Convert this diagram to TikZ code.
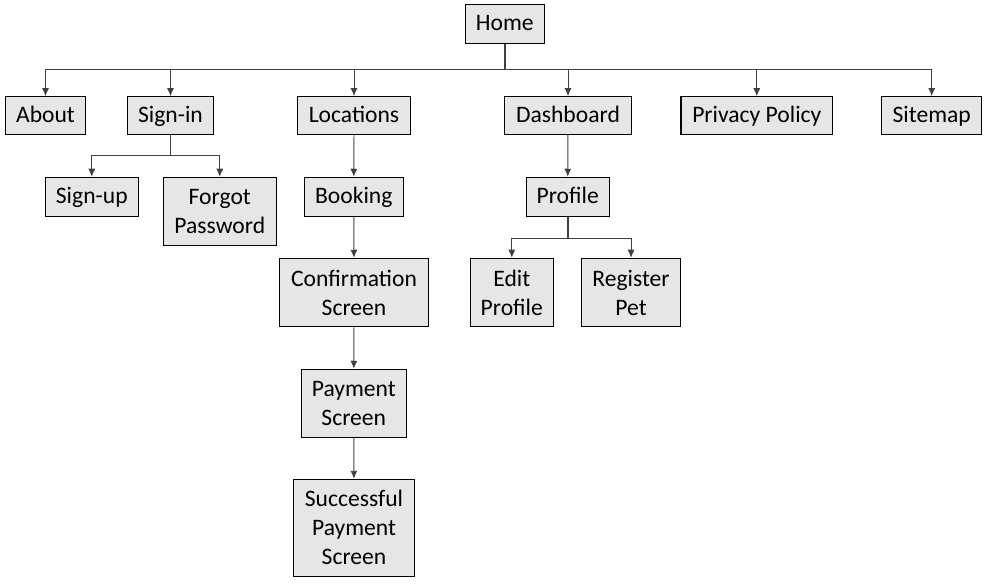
\documentclass[tikz,border=0pt]{standalone}
\usepackage{fontspec}
\setmainfont{Carlito}
\usetikzlibrary{arrows.meta}
\definecolor{boxgray}{HTML}{E7E6E6}
\definecolor{linegray}{HTML}{404040}

\begin{document}
\begin{tikzpicture}[x=1pt,y=-1pt]
  \tikzset{page/.style={draw, fill=boxgray, line width=1.1pt, inner sep=0pt, align=center,
      font=\fontsize{23.6}{29}\selectfont}}
  \tikzset{page1/.style={page, text height=18pt, text depth=4pt}}
  \tikzset{line/.style={draw=linegray, line width=0.9pt, -{Latex[length=8pt,width=7pt]}}}
  \tikzset{line2/.style={draw=linegray, line width=1.6pt}}

  \useasboundingbox (0,0) rectangle (987,585);

  \node[page1, minimum width=79pt, minimum height=39pt] (home) at (504.8,23.8) {Home};

  \node[page1, minimum width=80.4pt, minimum height=37.6pt] (about) at (45.5,115.5) {About};
  \node[page1, minimum width=86.4pt, minimum height=37.6pt] (signin) at (170.5,115.5) {Sign-in};
  \node[page1, minimum width=113.4pt, minimum height=37.6pt] (locations) at (354,115.5) {Locations};
  \node[page1, minimum width=127.4pt, minimum height=37.6pt] (dashboard) at (568,115.5) {Dashboard};
  \node[page1, minimum width=151.7pt, minimum height=37.6pt] (privacy) at (756.8,115.5) {Privacy Policy};
  \node[page1, minimum width=100pt, minimum height=37.6pt] (sitemap) at (931.7,115.5) {Sitemap};

  \node[page1, minimum width=93pt, minimum height=39pt] (signup) at (91.8,196.8) {Sign-up};
  \node[page, minimum width=113pt, minimum height=68pt] (forgot) at (219.8,211.3) {Forgot\\Password};
  \node[page1, minimum width=99pt, minimum height=39pt] (booking) at (353.8,196.8) {Booking};
  \node[page1, minimum width=83.3pt, minimum height=39pt] (profile) at (567.7,196.8) {Profile};

  \node[page, minimum width=149.4pt, minimum height=68.4pt] (confirm) at (354,292.5) {Confirmation\\Screen};
  \node[page, minimum width=83pt, minimum height=68.4pt] (editprofile) at (511.8,292.5) {Edit\\Profile};
  \node[page, minimum width=99.4pt, minimum height=68.4pt] (registerpet) at (631,292.5) {Register\\Pet};
  \node[page, minimum width=105pt, minimum height=68pt] (payment) at (353.8,403.3) {Payment\\Screen};
  \node[page, minimum width=121.4pt, minimum height=96.7pt] (success) at (354,527.7) {Successful\\Payment\\Screen};

  \coordinate (bus) at (0,69.5);
  \coordinate (signbus) at (0,155.3);
  \coordinate (profbus) at (0,238.3);

  \path[line2] (home.south) -- (home.south |- bus);
  \foreach \n in {about,signin,locations,dashboard,privacy,sitemap}
    \path[line] (home.south |- bus) -| (\n.north);

  \path[line2] (signin.south) -- (signin.south |- signbus);
  \path[line] (signin.south |- signbus) -| (signup.north);
  \path[line] (signin.south |- signbus) -| (forgot.north);

  \path[line] (locations) -- (booking);
  \path[line] (booking) -- (confirm);
  \path[line] (confirm) -- (payment);
  \path[line] (payment) -- (success);

  \path[line] (dashboard) -- (profile);
  \path[line2] (profile.south) -- (profile.south |- profbus);
  \path[line] (profile.south |- profbus) -| (editprofile.north);
  \path[line] (profile.south |- profbus) -| (registerpet.north);

\end{tikzpicture}
\end{document}
